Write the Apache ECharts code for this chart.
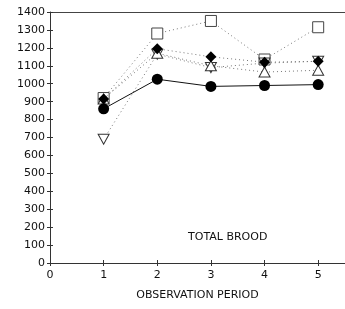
<!DOCTYPE html>
<html><head><meta charset="utf-8">
<script src="https://cdn.jsdelivr.net/npm/echarts@6/dist/echarts.min.js"></script>
<style>html,body{margin:0;padding:0;background:#fff}#c{width:345px;height:309px}</style>
</head><body><div id="c"></div>
<script>
var periods = [1, 2, 3, 4, 5];
var xTicks = [0, 1, 2, 3, 4, 5];
var yTicks = [0,100,200,300,400,500,600,700,800,900,1000,1100,1200,1300,1400];
var circleVals = [860, 1025, 985, 990, 995];
var squareVals = [920, 1280, 1350, 1135, 1315];
var diamondVals = [915, 1195, 1150, 1120, 1125];
var downTriVals = [690, 1165, 1090, 1115, 1125];
var upTriVals = [915, 1170, 1100, 1065, 1075];

function pairs(v){ return periods.map(function(p,i){ return [p, v[i]]; }); }
var chart = echarts.init(document.getElementById('c'));
var font = 'DejaVu Sans';
var dotted = {color:'#777', width:1, type:[1,3]};
chart.setOption({
  animation:false,
  grid:{left:50, top:12, width:297, height:251},
  xAxis:[{
    type:'value', min:0, max:5.5,
    axisLine:{show:true, lineStyle:{color:'#333', width:1}},
    axisTick:{show:true, length:3, lineStyle:{color:'#333'}, customValues:xTicks},
    axisLabel:{color:'#111', fontSize:11, fontFamily:font, margin:7, customValues:xTicks},
    splitLine:{show:false},
    name:'OBSERVATION PERIOD', nameLocation:'middle', nameGap:27,
    nameTextStyle:{color:'#111', fontSize:11, fontFamily:font}
  },{
    type:'value', min:0, max:5.5, position:'bottom',
    axisLine:{show:false}, axisTick:{show:true, inside:true, length:3, lineStyle:{color:'#333'}, customValues:xTicks},
    axisLabel:{show:false}, splitLine:{show:false}
  },{
    type:'value', min:0, max:5.5, position:'top',
    axisLine:{show:true, lineStyle:{color:'#444', width:1}}, axisTick:{show:false},
    axisLabel:{show:false}, splitLine:{show:false}
  }],
  yAxis:[{
    type:'value', min:0, max:1400,
    axisLine:{show:true, lineStyle:{color:'#333', width:1}},
    axisTick:{show:true, length:3, lineStyle:{color:'#333'}, customValues:yTicks},
    axisLabel:{color:'#111', fontSize:11, fontFamily:font, margin:5, customValues:yTicks,
      formatter:function(v){ return String(v); }},
    splitLine:{show:false}
  },{
    type:'value', min:0, max:1400, position:'left',
    axisLine:{show:false}, axisTick:{show:true, inside:true, length:3, lineStyle:{color:'#333'}, customValues:yTicks},
    axisLabel:{show:false}, splitLine:{show:false}
  }],
  graphic:[{type:'text', left:188, top:232,
    style:{text:'TOTAL BROOD', fill:'#111', font:'11px "DejaVu Sans"'}}],
  series:[
    {type:'line', data:pairs(squareVals), symbol:'rect', symbolSize:11,
      itemStyle:{color:'#fff', borderColor:'#444', borderWidth:1}, lineStyle:dotted, z:2},
    {type:'line', data:pairs(downTriVals), symbol:'path://M0,0 L10,0 L5,9 Z', symbolSize:[11,10],
      itemStyle:{color:'#fff', borderColor:'#333', borderWidth:1}, lineStyle:dotted, z:3},
    {type:'line', data:pairs(upTriVals), symbol:'triangle', symbolSize:[11,10],
      itemStyle:{color:'#fff', borderColor:'#333', borderWidth:1}, lineStyle:dotted, z:3},
    {type:'line', data:pairs(diamondVals), symbol:'diamond', symbolSize:11,
      itemStyle:{color:'#000'}, lineStyle:dotted, z:4},
    {type:'line', data:pairs(circleVals), symbol:'circle', symbolSize:11,
      itemStyle:{color:'#000'}, lineStyle:{color:'#111', width:1}, z:5}
  ]
});
</script></body></html>
